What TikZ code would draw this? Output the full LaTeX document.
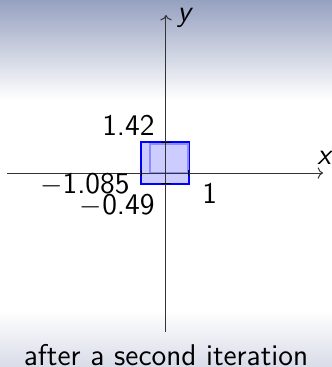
\documentclass[tikz,border=0pt]{standalone}
\usepackage{tikz}
\usetikzlibrary{arrows.meta,positioning,calc}
\definecolor{slideTop}{RGB}{150,161,192}
\definecolor{slideBot}{RGB}{216,220,232}
\definecolor{boxFill}{RGB}{204,204,255}
\definecolor{boxEdge}{RGB}{0,0,255}

\begin{document}
\begin{tikzpicture}[
      x=11.5pt,y=10.75pt,
      font=\fontsize{15}{17}\selectfont\sffamily,
      axis/.style={->,line width=0.5pt,draw=black!80},
      tickmark/.style={line width=0.5pt,draw=black},
      lbl/.style={inner sep=0pt},
      newbox/.style={draw=boxEdge,line width=1pt,fill=boxFill},
      oldbox/.style={draw=boxEdge!45,line width=1pt}
    ]
    \useasboundingbox (-7.217,-9.023) rectangle (7.217,8.047);
    % slide background
    \shade[top color=slideTop,bottom color=white] (-7.217,8.047) rectangle (7.217,3.4);
    \shade[top color=white,bottom color=slideBot] (-7.217,-6.37) rectangle (7.217,-9.023);
    % boxes
    \draw[newbox] (-1.085,-0.49) rectangle (1,1.42);
    \draw[oldbox] (-0.70,0) rectangle (0.94,1.36);
    % axes
    \coordinate (xl) at (-6.91,0);
    \coordinate (xr) at (6.83,0);
    \coordinate (yb) at (0,-7.40);
    \coordinate (yt) at (0,7.35);
    \draw[axis] (xl) -- (xr);
    \draw[axis] (yb) -- (yt);
    \node[lbl,anchor=west] (xlab) at (6.56,0.70) {\itshape x};
    \node[lbl,anchor=west] (ylab) at (0.48,7.22) {\itshape y};
    % ticks
    \draw[tickmark] (-1.085,-0.15) -- (-1.085,0.15);
    \draw[tickmark] (1,-0.15) -- (1,0.15);
    \draw[tickmark] (-0.2,1.42) -- (0.2,1.42);
    \draw[tickmark] (-0.2,-0.49) -- (0.2,-0.49);
    \node[lbl,anchor=east] (ytop) at (-0.48,2.23) {1.42};
    \node[lbl,anchor=east] (xleft) at (-1.565,-0.52) {$-$1.085};
    \node[lbl,anchor=east] (ybot) at (-0.48,-1.53) {$-$0.49};
    \node[lbl,anchor=west] (xright) at (1.565,-0.95) {1};
    \node[lbl,anchor=base] (cap) at (0,-8.93) {after a second iteration};
  \end{tikzpicture}
\end{document}
